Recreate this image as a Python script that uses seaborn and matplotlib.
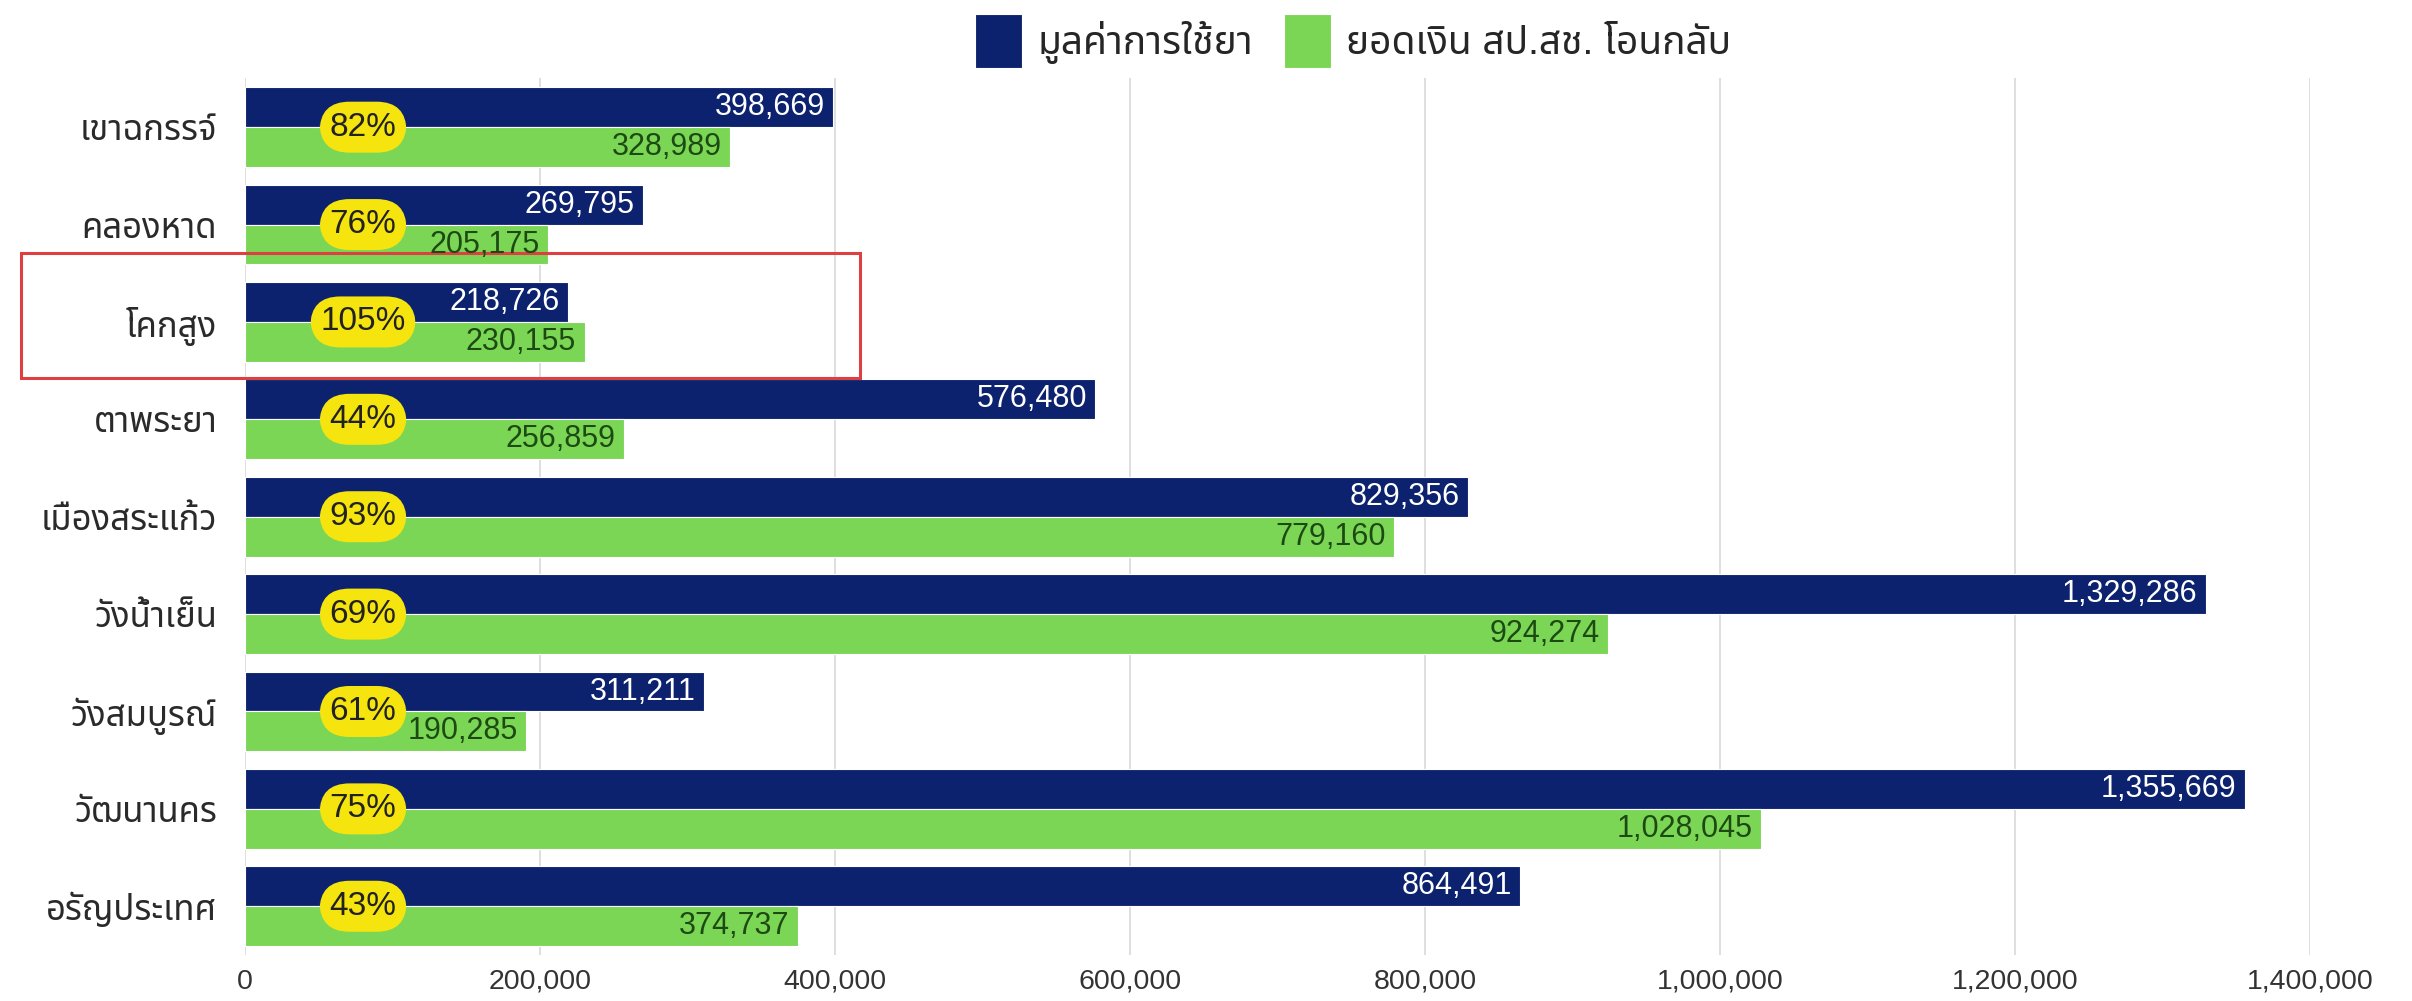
import matplotlib
matplotlib.use("Agg")
import matplotlib.pyplot as plt
import matplotlib.transforms as mtransforms
from matplotlib.patches import Rectangle
from matplotlib.ticker import FuncFormatter
import seaborn as sns
import pandas as pd

districts = ['เขาฉกรรจ์', 'คลองหาด', 'โคกสูง', 'ตาพระยา', 'เมืองสระแก้ว',
             'วังน้ำเย็น', 'วังสมบูรณ์', 'วัฒนานคร', 'อรัญประเทศ']
drug_value = [398669, 269795, 218726, 576480, 829356, 1329286, 311211, 1355669, 864491]
refund = [328989, 205175, 230155, 256859, 779160, 924274, 190285, 1028045, 374737]
pct = [82, 76, 105, 44, 93, 69, 61, 75, 43]
series_names = ['มูลค่าการใช้ยา', 'ยอดเงิน สป.สช. โอนกลับ']
x_ticks = [0, 200000, 400000, 600000, 800000, 1000000, 1200000, 1400000]

navy = '#0c226e'
green = '#7bd655'
yellow = '#f6e40e'
red = '#dd4040'

df = pd.DataFrame({
    'district': districts * 2,
    'value': drug_value + refund,
    'series': [series_names[0]] * len(districts) + [series_names[1]] * len(districts),
})

sns.set_style('white')
plt.rcParams['font.family'] = ['Liberation Sans', 'Noto Sans Thai', 'Kanit', 'DejaVu Sans']

fig = plt.figure(figsize=(24.12, 10.01), dpi=100)
ax = fig.add_axes([0.1016, 0.046, 0.8561, 0.8756])

sns.barplot(data=df, y='district', x='value', hue='series', orient='h',
            palette=[navy, green], saturation=1, width=0.82,
            edgecolor='white', linewidth=0.8, ax=ax)

ax.set_xlim(0, 1400000)
ax.set_xticks(x_ticks)
ax.xaxis.set_major_formatter(FuncFormatter(lambda v, p: f'{v:,.0f}'))
ax.xaxis.grid(True, color='#d9d9d9', lw=1.2)
ax.set_axisbelow(True)
for s in ax.spines.values():
    s.set_visible(False)
ax.tick_params(axis='x', length=0, labelsize=20.5, pad=10, colors='#333333')
ax.tick_params(axis='y', length=0, labelsize=25, pad=20, colors='#2a2a2a')
ax.set_xlabel('')
ax.set_ylabel('')

# value labels inside bar ends
for bar in ax.containers[0]:
    w = bar.get_width()
    ax.annotate(f'{w:,.0f}', xy=(w, bar.get_y() + bar.get_height() / 2),
                xytext=(-6, 0), textcoords='offset points', ha='right', va='center',
                fontsize=22, color='white')
for bar in ax.containers[1]:
    w = bar.get_width()
    ax.annotate(f'{w:,.0f}', xy=(w, bar.get_y() + bar.get_height() / 2),
                xytext=(-6, 0), textcoords='offset points', ha='right', va='center',
                fontsize=22, color='#1d4a12')

# ratio badges
for i, p in enumerate(pct):
    ax.text(80000, i, f'{p}%', ha='center', va='center', fontsize=24, color='#222222',
            bbox=dict(boxstyle='round,pad=0.3,rounding_size=0.9', fc=yellow, ec='none'))

# highlight box around โคกสูง
trans = mtransforms.blended_transform_factory(fig.transFigure, ax.transData)
ax.add_patch(Rectangle((0.0087, 1.29), 0.348, 1.285, transform=trans, fill=False,
                       ec=red, lw=2.2, clip_on=False))

handles, labels = ax.get_legend_handles_labels()
ax.legend(handles, labels, loc='center', bbox_to_anchor=(0.561, 0.959),
          bbox_transform=fig.transFigure, ncol=2, frameon=False, fontsize=28,
          handlelength=1.2, handleheight=1.75, columnspacing=0.8, handletextpad=0.4)

fig.savefig('out.png', dpi=100)
plt.close()
